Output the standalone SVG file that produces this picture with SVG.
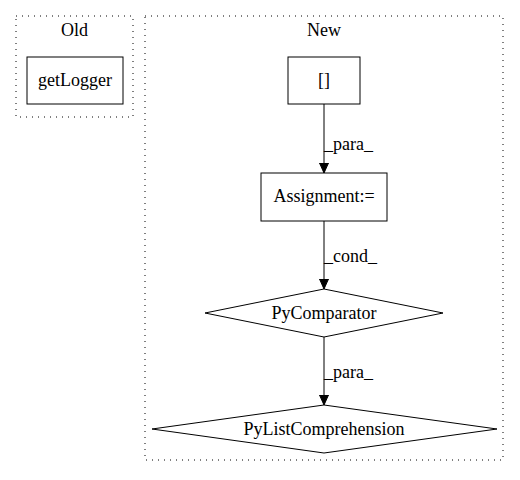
<svg xmlns="http://www.w3.org/2000/svg" width="520" height="480" viewBox="0 0 520 480">
<style>
text{font-family:"Liberation Serif","Times New Roman",serif;font-size:18px;fill:#000}
.cl{fill:none;stroke:#000;stroke-width:1;stroke-dasharray:1,5}
.n{fill:#fff;stroke:#000;stroke-width:1}
.e{fill:none;stroke:#000;stroke-width:1}
</style>
<defs>
<marker id="ah" markerWidth="10" markerHeight="12" refX="10" refY="6" orient="auto" markerUnits="userSpaceOnUse">
<path d="M0,1.5 L10,6 L0,10.5 Z" fill="#000" stroke="#000"/>
</marker>
</defs>
<rect width="520" height="480" fill="#fff"/>
<g id="cluster_old">
<rect class="cl" x="16" y="16" width="117" height="101"/>
<text x="74.5" y="36" text-anchor="middle">Old</text>
</g>
<g id="cluster_new">
<rect class="cl" x="145" y="16" width="358" height="444"/>
<text x="324" y="36" text-anchor="middle">New</text>
</g>
<g id="getLogger">
<rect class="n" x="27" y="57" width="96" height="47"/>
<text x="75" y="86" text-anchor="middle">getLogger</text>
</g>
<g id="brackets">
<rect class="n" x="288" y="57" width="72" height="47"/>
<text x="324" y="86" text-anchor="middle">[]</text>
</g>
<g id="assignment">
<rect class="n" x="261" y="173" width="126" height="48"/>
<text x="324" y="202" text-anchor="middle">Assignment:=</text>
</g>
<g id="pycomparator">
<polygon class="n" points="324,289 443,313 324,337 205,313"/>
<text x="324" y="319" text-anchor="middle">PyComparator</text>
</g>
<g id="pylistcomprehension">
<polygon class="n" points="324,405 497,429 324,453 152,429"/>
<text x="324" y="435" text-anchor="middle">PyListComprehension</text>
</g>
<g id="connectors">
<line class="e" x1="324" y1="104" x2="324" y2="173" marker-end="url(#ah)"/>
<text x="324" y="150">_para_</text>
<line class="e" x1="324" y1="221" x2="324" y2="289" marker-end="url(#ah)"/>
<text x="324" y="262">_cond_</text>
<line class="e" x1="324" y1="337" x2="324" y2="405" marker-end="url(#ah)"/>
<text x="324" y="378">_para_</text>
</g>
</svg>
